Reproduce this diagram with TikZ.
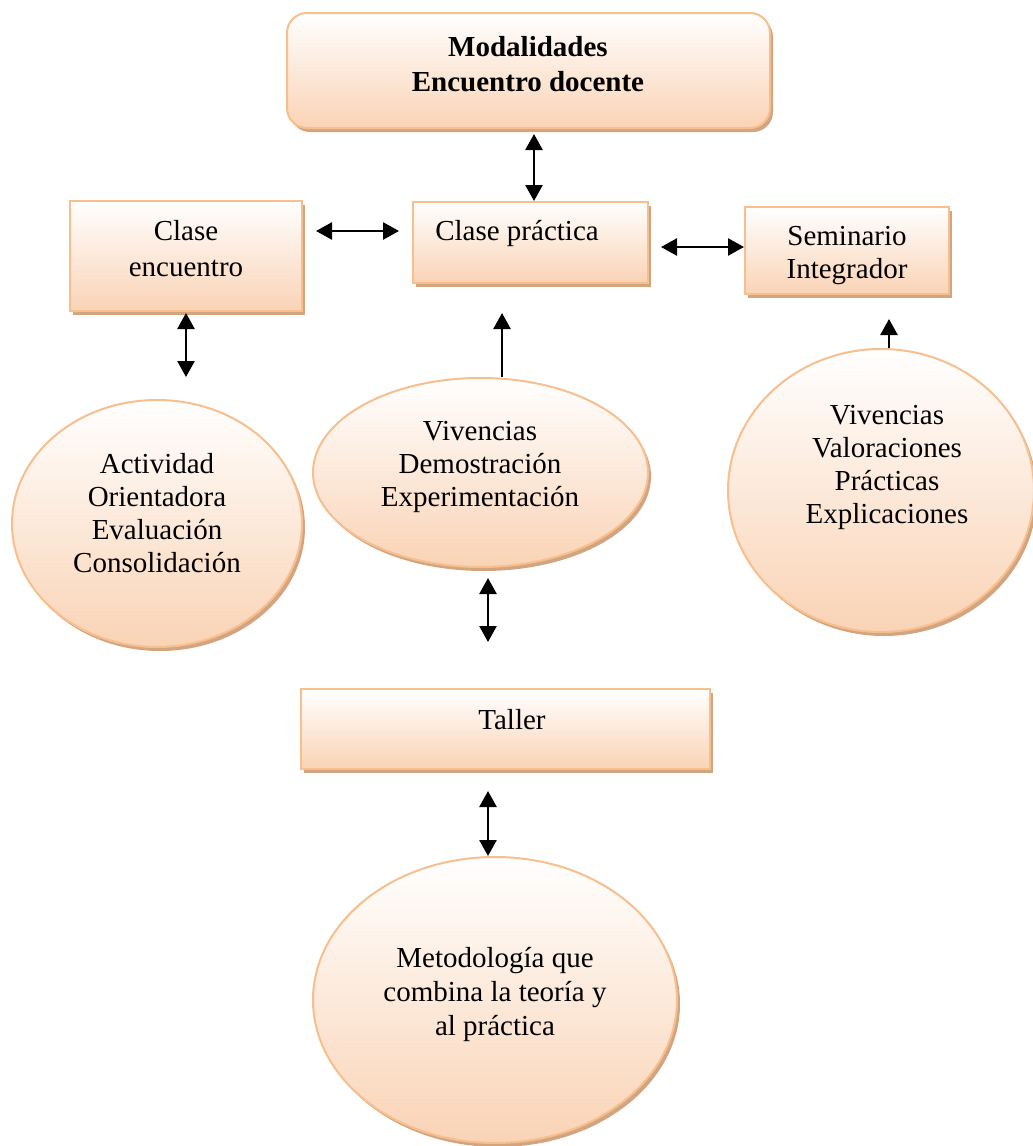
\documentclass[tikz,border=0pt]{standalone}
\usepackage{fontspec}
\setmainfont{Liberation Serif}
\usetikzlibrary{shapes.geometric,shadows,arrows.meta}
\definecolor{peach}{RGB}{250,211,181}
\definecolor{peachline}{RGB}{247,190,142}
\definecolor{shadowc}{RGB}{210,165,128}
\tikzset{
  shp/.style={draw=peachline, line width=2pt, top color=white, bottom color=peach, inner sep=0pt,
    drop shadow={shadow xshift=3pt, shadow yshift=-4pt, fill=shadowc, opacity=1}},
  boxx/.style={shp, rectangle},
  ell/.style={shp, ellipse},
  txt/.style={align=center, font=\fontsize{29}{33}\selectfont, inner sep=0pt},
  tipx/.tip={Triangle[length=16pt,width=17pt]},
  conn/.style={line width=2.5pt, -tipx},
  conn2/.style={line width=2.5pt, tipx-tipx},
}
\begin{document}
\begin{tikzpicture}[x=1pt,y=-1pt]
\useasboundingbox (0,0) rectangle (1033,1146);
% shapes
\node[boxx, rounded corners=20pt, minimum width=483pt, minimum height=115pt] (top) at (528.5,70.5) {};
\node[boxx, minimum width=232pt, minimum height=110pt] (ce) at (186,256) {};
\node[boxx, minimum width=235pt, minimum height=81pt] (cp) at (530.5,242.5) {};
\node[boxx, minimum width=204pt, minimum height=87pt] (sem) at (847,250.5) {};
\node[ell, minimum width=290pt, minimum height=247pt] (e1) at (157,523.5) {};
\node[ell, minimum width=335pt, minimum height=189pt] (e2) at (480.5,472.5) {};
\node[ell, minimum width=306pt, minimum height=283pt] (e3) at (881,490.5) {};
\node[boxx, minimum width=409pt, minimum height=80pt] (ta) at (505.5,729) {};
\node[ell, minimum width=364pt, minimum height=286pt] (e4) at (495,1000) {};
% texts
\node[txt, font=\fontsize{29}{35}\selectfont] (ttop) at (528,64) {\textbf{Modalidades}\\\textbf{Encuentro docente}};
\node[txt, font=\fontsize{29}{36}\selectfont] (tce) at (186,249) {Clase\\encuentro};
\node[txt] (tcp) at (517,234) {Clase práctica};
\node[txt] (tsem) at (847,255.5) {Seminario\\Integrador};
\node[txt] (te1) at (157,513) {Actividad\\Orientadora\\Evaluación\\Consolidación};
\node[txt] (te2) at (480,467) {Vivencias\\Demostración\\Experimentación};
\node[txt] (te3) at (887,467) {Vivencias\\Valoraciones\\Prácticas\\Explicaciones};
\node[txt] (tta) at (512,720) {Taller};
\node[txt, font=\fontsize{29}{34}\selectfont] (te4) at (495,994) {Metodología que\\combina la teoría y\\al práctica};
% connectors
\draw[conn2, shorten <=5pt] ([xshift=5.5pt]top.south) -- ([xshift=5.5pt]top.south |- cp.north);
\draw[conn2, shorten <=13pt, shorten >=13pt] ([yshift=25pt]ce.east) -- ([yshift=25pt]ce.east -| cp.west);
\draw[conn2, shorten <=12pt] ([yshift=-4.5pt]cp.east) -- ([yshift=-4.5pt]cp.east -| sem.west);
\draw[conn2, shorten <=1pt, shorten >=22pt] (ce.south) -- (ce.south |- e1.north);
\draw[conn, shorten >=29pt] ([xshift=21.5pt]e2.north) -- ([xshift=21.5pt]e2.north |- cp.south);
\draw[conn, shorten >=24pt] ([xshift=8pt]e3.north) -- ([xshift=8pt]e3.north |- sem.south);
\draw[conn2, shorten <=10pt, shorten >=46pt] ([xshift=7.5pt]e2.south) -- ([xshift=7.5pt]e2.south |- ta.north);
\draw[conn2, shorten <=21pt] ([xshift=-17.5pt]ta.south) -- ([xshift=-17.5pt]ta.south |- e4.north);
\end{tikzpicture}
\end{document}
